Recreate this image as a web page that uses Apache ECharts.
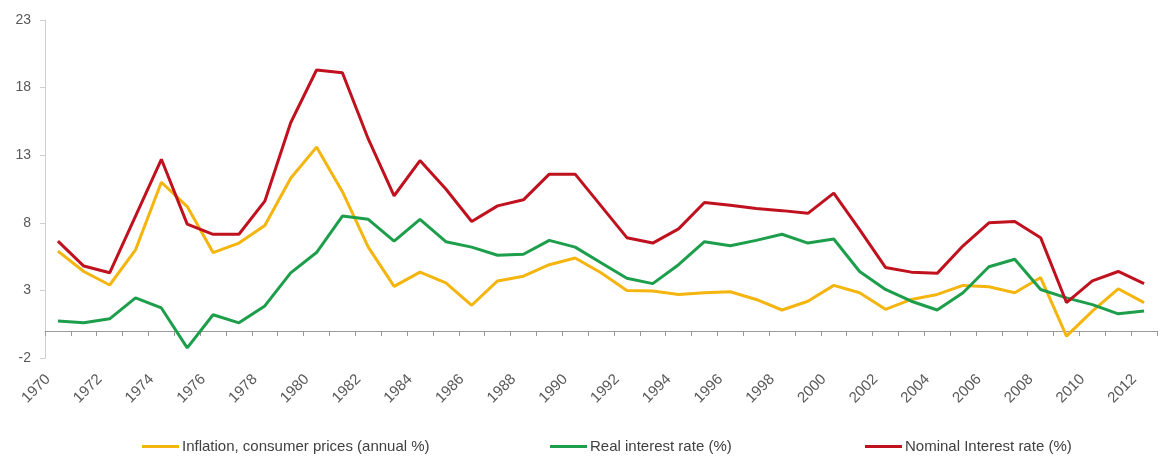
<!DOCTYPE html>
<html>
<head>
<meta charset="utf-8">
<script src="https://cdn.jsdelivr.net/npm/echarts@6/dist/echarts.min.js"></script>
<style>
  html, body { margin: 0; padding: 0; background: #ffffff; }
  #chart { width: 1161px; height: 465px; }
</style>
</head>
<body>
<div id="chart"></div>
<script>
// Years shown on the category axis
const years = [];
for (let y = 1970; y <= 2012; y++) years.push(String(y));

// Inflation, consumer prices (annual %)
const inflation = [
  5.9, 4.4, 3.4, 6.0, 11.0, 9.2, 5.8, 6.5, 7.8, 11.3,
  13.6, 10.3, 6.2, 3.3, 4.35, 3.55, 1.9, 3.7, 4.05, 4.9,
  5.4, 4.3, 3.0, 2.95, 2.7, 2.83, 2.9, 2.33, 1.55, 2.2,
  3.37, 2.83, 1.6, 2.33, 2.7, 3.37, 3.27, 2.83, 3.95, -0.38,
  1.47, 3.12, 2.1
];

// Real interest rate (%)
const realRate = [
  0.73, 0.6, 0.9, 2.45, 1.7, -1.25, 1.2, 0.6, 1.85, 4.3,
  5.8, 8.5, 8.26, 6.65, 8.26, 6.6, 6.2, 5.6, 5.67, 6.7,
  6.2, 5.05, 3.9, 3.5, 4.9, 6.6, 6.3, 6.7, 7.15, 6.5,
  6.8, 4.4, 3.07, 2.2, 1.55, 2.83, 4.75, 5.3, 3.07, 2.45,
  1.95, 1.27, 1.47
];

// Nominal interest rate (%)
const nominalRate = [
  6.65, 4.8, 4.3, 8.5, 12.7, 7.9, 7.15, 7.15, 9.6, 15.4,
  19.3, 19.1, 14.2, 10.0, 12.6, 10.5, 8.1, 9.25, 9.7, 11.6,
  11.6, 9.25, 6.9, 6.5, 7.55, 9.5, 9.3, 9.05, 8.9, 8.7,
  10.2, 7.5, 4.7, 4.35, 4.26, 6.3, 8.0, 8.1, 6.9, 2.1,
  3.7, 4.4, 3.5
];

// Value-axis tick labels
const yTicks = [-2, 3, 8, 13, 18, 23];

const seriesNames = [
  'Inflation, consumer prices (annual %)',
  'Real interest rate (%)',
  'Nominal Interest rate (%)'
];
const colors = ['#F5B50F', '#1C9E4B', '#C0111F'];
const legendLeft = [137, 545, 860];

const textColor = '#595959';
const font = 'Liberation Sans, Arial, sans-serif';

const chart = echarts.init(document.getElementById('chart'), null, { renderer: 'canvas' });

function lineSeries(name, data, color) {
  return {
    name: name,
    type: 'line',
    xAxisIndex: 0,
    yAxisIndex: 0,
    data: data,
    symbol: 'none',
    smooth: false,
    lineStyle: { color: color, width: 3 },
    itemStyle: { color: color },
    emphasis: { disabled: true }
  };
}

// one legend entry per component so each can sit at its own spot
const legends = seriesNames.map((name, i) => ({
  left: legendLeft[i],
  bottom: 6,
  icon: 'rect',
  itemWidth: 37,
  itemHeight: 3,
  itemGap: 4,
  textStyle: { color: '#404040', fontFamily: font, fontSize: 15, padding: [0, 0, 0, -2] },
  data: [name]
}));

chart.setOption({
  animation: false,
  color: colors,
  grid: { left: 45, right: 4, top: 20, bottom: 107, containLabel: false },
  legend: legends,
  xAxis: [
    {
      // labels along the bottom edge
      type: 'category',
      data: years,
      position: 'bottom',
      boundaryGap: true,
      axisLine: { show: false, onZero: false },
      axisTick: { show: false },
      axisLabel: {
        interval: 1,
        rotate: 45,
        margin: 9,
        padding: [0, 14, 0, 0],
        color: textColor,
        fontFamily: font,
        fontSize: 15
      },
      splitLine: { show: false }
    },
    {
      // baseline at zero with downward ticks
      type: 'category',
      data: years,
      position: 'top',
      boundaryGap: true,
      axisLine: { show: true, onZero: true, lineStyle: { color: '#9a9a9a', width: 1 } },
      axisTick: { show: true, inside: true, interval: 0, length: 5, lineStyle: { color: '#9a9a9a' } },
      axisLabel: { show: false },
      splitLine: { show: false }
    }
  ],
  yAxis: {
    type: 'value',
    min: -2,
    max: 23,
    interval: 5,
    axisLine: { show: true, lineStyle: { color: '#cfcfcf', width: 1 } },
    axisTick: { show: true, length: 5, customValues: yTicks, lineStyle: { color: '#cfcfcf' } },
    axisLabel: {
      customValues: yTicks,
      margin: 14,
      color: textColor,
      fontFamily: font,
      fontSize: 14
    },
    splitLine: { show: false }
  },
  series: [
    lineSeries(seriesNames[0], inflation, colors[0]),
    lineSeries(seriesNames[1], realRate, colors[1]),
    lineSeries(seriesNames[2], nominalRate, colors[2])
  ]
});
</script>
</body>
</html>
